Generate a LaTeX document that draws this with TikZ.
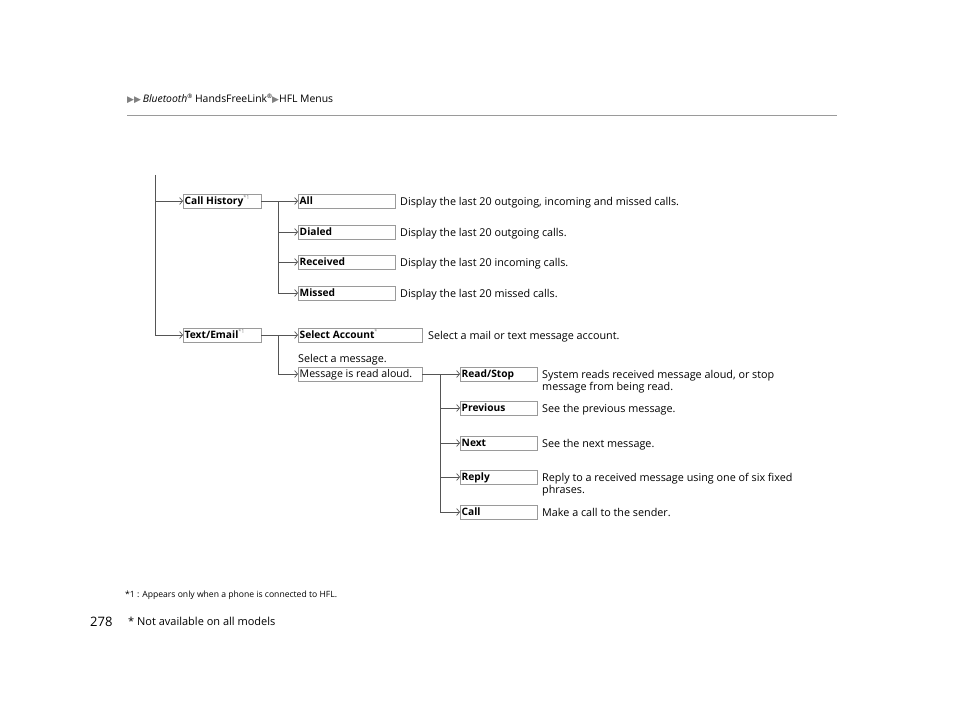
\documentclass[tikz,border=0pt]{standalone}
\usepackage{fontspec}
\setmainfont{Open Sans}
\newfontfamily\symfont{DejaVu Sans}
\usepackage{xcolor}
\usetikzlibrary{arrows.meta, positioning}

\definecolor{linegray}{HTML}{555555}
\definecolor{boxgray}{HTML}{9A9A9A}

\newcommand{\fnmark}[1]{\raisebox{0.45em}{\normalfont\fontsize{5.5}{6}\selectfont\color{gray} #1}}
\newcommand{\regmark}{\raisebox{0.4em}{\fontsize{6}{6}\selectfont ®}}

\begin{document}
\begin{tikzpicture}[x=1pt, y=-1pt,
  menu/.style={draw=boxgray, fill=white, anchor=west, text height=8.8pt, text depth=1.8pt, minimum height=14pt, inner xsep=1.5pt, inner ysep=1.2pt, font=\fontsize{10.2}{11}\selectfont\bfseries, execute at begin node={\hbox to #1\bgroup}, execute at end node={\hfil\egroup}},
  option/.style={anchor=base west, yshift=-4pt, inner sep=0pt, align=left, font=\fontsize{10.8}{12}\selectfont},
  link/.style={draw=linegray, line width=0.7pt},
  arrow/.style={link, -{Straight Barb[length=3pt, width=7pt, line width=0.7pt]}},
  note/.style={anchor=west, inner sep=0pt, font=\fontsize{8.6}{10}\selectfont}
]
  \useasboundingbox (0,0) rectangle (960,722);

  % Header
  \node[note, font=\fontsize{10.4}{12}\selectfont] (header) at (127,99) {{\symfont\fontsize{9}{9}\selectfont\color{gray}▶▶}\,\textit{Bluetooth}\regmark\ HandsFreeLink\regmark{\symfont\fontsize{9}{9}\selectfont\color{gray}▶}HFL Menus};
  \draw[boxgray, line width=0.9pt] (127,115) -- (837,115);

  % Top level
  \coordinate (trunk) at (155,175);
  \node[menu=74.6pt] (callhist) at (183,201) {Call History\fnmark{*1}};
  \node[menu=74.6pt] (textmail) at (183,335) {Text/Email\fnmark{*1}};
  \draw[arrow] (trunk) |- (textmail.west);
  \draw[arrow] (trunk |- callhist.west) -- (callhist.west);

  % Call History branch
  \node[menu=93.6pt] (all) at (298,201) {All};
  \node[menu=93.6pt] (dialed) at (298,232) {Dialed};
  \node[menu=93.6pt] (received) at (298,262) {Received};
  \node[menu=93.6pt] (missed) at (298,293) {Missed};
  \node[option] (allinfo) at (400,201) {Display the last 20 outgoing, incoming and missed calls.};
  \node[option] (dialedinfo) at (400,232) {Display the last 20 outgoing calls.};
  \node[option] (receivedinfo) at (400,262) {Display the last 20 incoming calls.};
  \node[option] (missedinfo) at (400,293) {Display the last 20 missed calls.};

  \coordinate (chfork) at (278,201);
  \draw[arrow] (callhist.east) -- (all.west);
  \draw[arrow] (chfork) |- (missed.west);
  \foreach \n in {dialed, received} {
    \draw[arrow] (chfork |- \n.west) -- (\n.west);
  }

  % Text/Email branch
  \node[menu=120.6pt] (selacc) at (298,335) {Select Account\fnmark{*}};
  \node[menu=120.6pt, font=\fontsize{10.6}{11}\selectfont] (readaloud) at (298,374) {Message is read aloud.};
  \node[option] (selmsg) at ([yshift=8pt]readaloud.north west) {Select a message.};
  \node[option] (selaccinfo) at (428,335) {Select a mail or text message account.};

  \coordinate (tmfork) at (278,335);
  \draw[arrow] (textmail.east) -- (selacc.west);
  \draw[arrow] (tmfork) |- (readaloud.west);

  % Message options
  \node[menu=73.6pt] (readstop) at (460,374) {Read/Stop};
  \node[menu=73.6pt] (previous) at (460,408) {Previous};
  \node[menu=73.6pt] (next) at (460,443) {Next};
  \node[menu=73.6pt] (reply) at (460,477) {Reply};
  \node[menu=73.6pt] (call) at (460,512) {Call};
  \node[option, anchor=north west] (readstopinfo) at (542,366) {System reads received message aloud, or stop\\message from being read.};
  \node[option] (previousinfo) at (542,408) {See the previous message.};
  \node[option] (nextinfo) at (542,443) {See the next message.};
  \node[option, anchor=north west] (replyinfo) at (542,469) {Reply to a received message using one of six fixed\\phrases.};
  \node[option] (callinfo) at (542,512) {Make a call to the sender.};

  \coordinate (msgfork) at (440,374);
  \draw[arrow] (readaloud.east) -- (readstop.west);
  \draw[arrow] (msgfork) |- (call.west);
  \foreach \n in {previous, next, reply} {
    \draw[arrow] (msgfork |- \n.west) -- (\n.west);
  }

  % Footer
  \node[note] (footnote) at (125,595) {*1 : Appears only when a phone is connected to HFL.};
  \node[note, font=\fontsize{13}{15}\selectfont] (pagenum) at (90,622) {278};
  \node[note, font=\fontsize{11}{13}\selectfont] (avail) at (128,621) {* Not available on all models};

\end{tikzpicture}
\end{document}
